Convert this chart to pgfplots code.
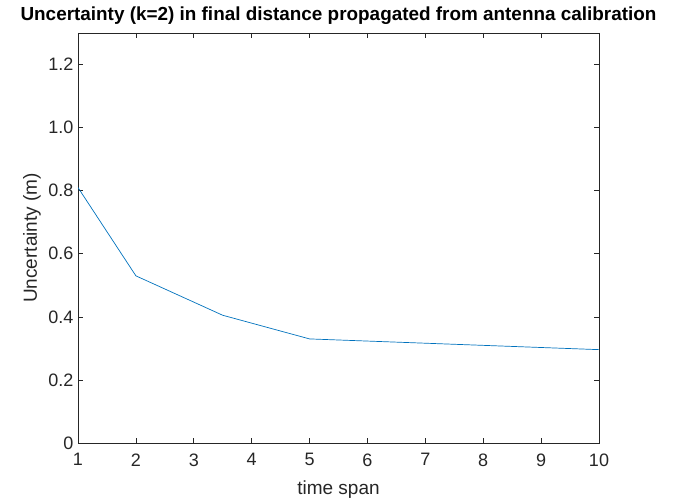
\documentclass[border=0pt]{standalone}
\usepackage{pgfplots}
\pgfplotsset{compat=1.18}
\usepackage{fontspec}
\setmainfont{Liberation Sans}
\definecolor{mblue}{RGB}{0,114,189}
\definecolor{mgray}{RGB}{38,38,38}
\begin{document}
\begin{tikzpicture}[x=1pt,y=1pt]
\useasboundingbox (0,0) rectangle (683,500);
\begin{axis}[
 at={(78pt,57pt)}, anchor=south west,
 scale only axis, width=521pt, height=410pt,
 xmin=1, xmax=10, ymin=0, ymax=1.3,
 xtick={1,2,3,4,5,6,7,8,9,10},
 ytick={0,0.2,0.4,0.6,0.8,1.0,1.2},
 yticklabels={0,0.2,0.4,0.6,0.8,1.0,1.2},
 tick align=inside, tick pos=both,
 major tick length=5pt,
 axis line style={mgray, line width=0.6pt},
 every tick/.style={mgray, line width=0.6pt},
 ticklabel style={font=\fontsize{18}{18}\selectfont, text=mgray},
 xticklabel style={yshift=-7pt},
 yticklabel style={xshift=-1pt},
 /pgf/number format/assume math mode=true,
 xlabel={time span}, ylabel={Uncertainty (m)},
 xlabel style={at={(axis description cs:0.5,-0.1244)}, anchor=base, font=\fontsize{19}{19}\selectfont, text=mgray},
 ylabel style={at={(axis description cs:-0.0787,0.5)}, anchor=base, font=\fontsize{19}{19}\selectfont, text=mgray},
 title={Uncertainty (k=2) in final distance propagated from antenna calibration},
 title style={at={(axis description cs:0.5,1.017)}, anchor=base, font=\bfseries\fontsize{18.9}{18.9}\selectfont},
]
\addplot[mblue, line width=0.7pt] coordinates {(1,0.81)(2,0.53)(3.5,0.405)(5,0.33)(10,0.296)};
\end{axis}
\end{tikzpicture}
\end{document}
